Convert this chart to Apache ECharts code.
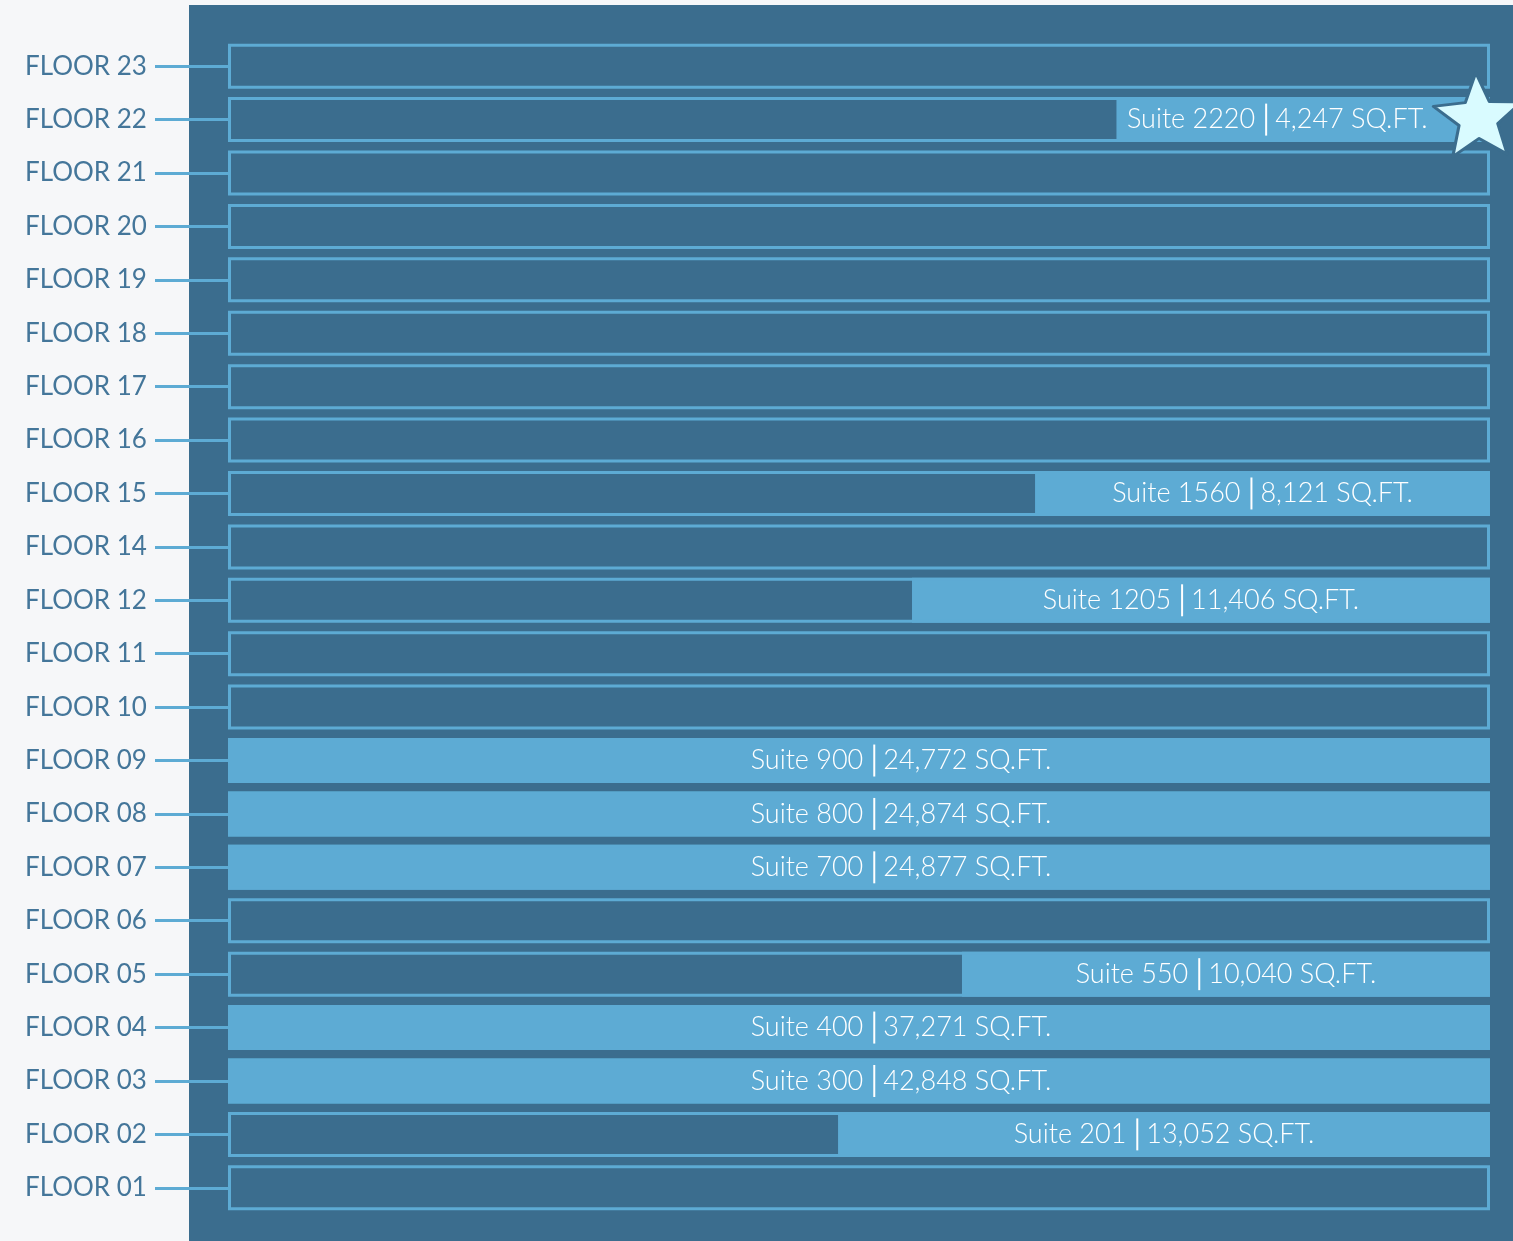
<!DOCTYPE html>
<html><head><meta charset="utf-8">
<script src="https://cdn.jsdelivr.net/npm/echarts@6/dist/echarts.min.js"></script>
<style>html,body{margin:0;padding:0;background:#f6f7f9;}#c{width:1513px;height:1241px;}</style>
</head><body><div id="c"></div>
<script>
const floors = ['FLOOR 23','FLOOR 22','FLOOR 21','FLOOR 20','FLOOR 19','FLOOR 18','FLOOR 17','FLOOR 16','FLOOR 15','FLOOR 14','FLOOR 12','FLOOR 11','FLOOR 10','FLOOR 09','FLOOR 08','FLOOR 07','FLOOR 06','FLOOR 05','FLOOR 04','FLOOR 03','FLOOR 02','FLOOR 01'];
// fraction of the floor plate where the available suite starts (null = nothing available)
const availStart = [null,0.704,null,null,null,null,null,null,0.6395,null,0.542,null,null,0,0,0,null,0.5816,0,0,0.4834,null];
const suiteNames = ['','Suite 2220','','','','','','','Suite 1560','','Suite 1205','','','Suite 900','Suite 800','Suite 700','','Suite 550','Suite 400','Suite 300','Suite 201',''];
const suiteSqft = ['','4,247','','','','','','','8,121','','11,406','','','24,772','24,874','24,877','','10,040','37,271','42,848','13,052',''];
const featuredFloor = 'FLOOR 22';
const featuredX = 0.99;

const DARK = '#3b6d8e', LIGHT = '#5dabd4';

function starPath(){
  const pts = [];
  for (let i=0;i<10;i++){
    const r = i%2===0 ? 50 : 22;
    const a = -Math.PI/2 + i*Math.PI/5 - 0.05;
    pts.push([(50 + r*Math.cos(a)).toFixed(2), (52 + r*Math.sin(a)).toFixed(2)]);
  }
  return 'path://M' + pts.map(p=>p.join(',')).join('L') + 'Z';
}

const baseData = availStart.map(v => v === null ? '-' : v);
const fillData = availStart.map((v,i) => {
  if (v === null) return '-';
  let off = [0, 0];
  if (v === 0) off = [42, 0];
  else if (floors[i] === featuredFloor) off = [-26, 0];
  return {
    value: 1 - v,
    label: {
      show: true,
      offset: off,
      formatter: '{a|' + suiteNames[i] + '}{d|}{b|' + suiteSqft[i] + ' SQ.FT.}'
    }
  };
});

const txt = { color: '#fff', fontFamily: 'Lato', fontSize: 27, fontWeight: 300 };

const chart = echarts.init(document.getElementById('c'));
chart.setOption({
  backgroundColor: '#f6f7f9',
  animation: false,
  graphic: [{
    type: 'rect', z: -10,
    shape: { x: 189, y: 5, width: 1324, height: 1236 },
    style: { fill: DARK }
  }],
  grid: { left: 228, right: 23, top: 39.5, bottom: 26.5 },
  xAxis: { type: 'value', min: 0, max: 1, show: false },
  yAxis: {
    type: 'category', data: floors, inverse: true,
    axisLine: { show: false },
    axisTick: { show: true, alignWithLabel: true, length: 73, lineStyle: { color: LIGHT, width: 3 } },
    axisLabel: { align: 'left', margin: 203, color: '#44769a', fontFamily: 'Lato', fontSize: 26, fontWeight: 400 }
  },
  series: [
    { type: 'bar', stack: 'a', barWidth: 45, data: baseData, itemStyle: { color: 'transparent' }, silent: true },
    { type: 'bar', stack: 'a', barWidth: 45, data: fillData,
      itemStyle: { color: LIGHT },
      label: Object.assign({
        position: 'inside',
        rich: {
          a: Object.assign({ padding: [0, 10, 0, 0] }, txt),
          b: Object.assign({ padding: [0, 0, 0, 8] }, txt),
          d: { width: 2, height: 32, backgroundColor: '#ffffff' }
        }
      }, txt)
    },
    { type: 'bar', barGap: '-100%', barWidth: 45, data: floors.map(() => 1),
      itemStyle: { color: 'transparent', borderColor: LIGHT, borderWidth: 3 }, z: 3, silent: true },
    { type: 'scatter', data: [[featuredX, featuredFloor]], symbol: starPath(), symbolSize: [88, 84], symbolOffset: [0, -5], z: 10,
      itemStyle: { color: '#d9fbff', opacity: 1, borderColor: DARK, borderWidth: 3, borderJoin: 'round' } }
  ]
});
</script></body></html>
